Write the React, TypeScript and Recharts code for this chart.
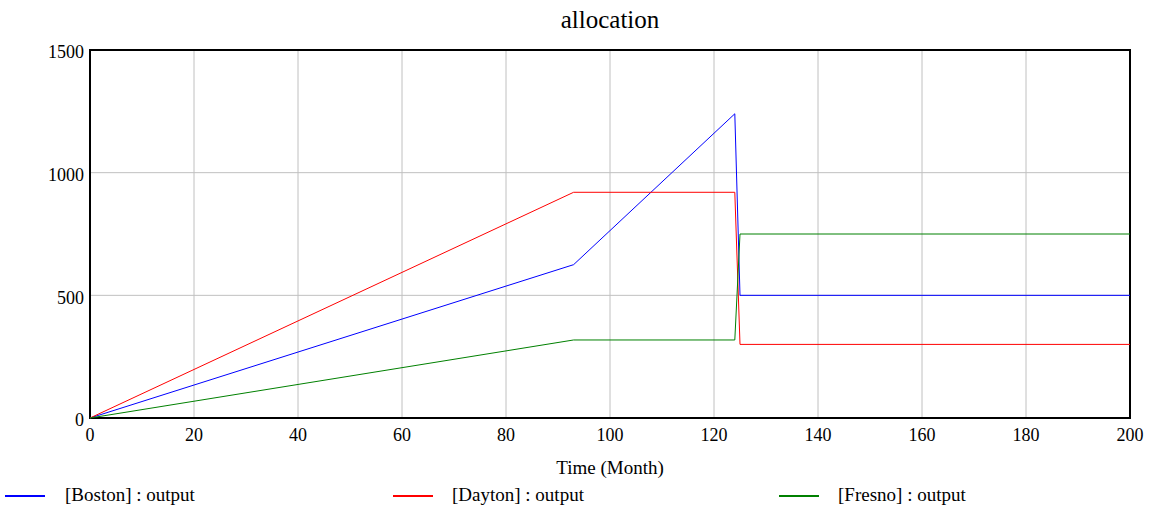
import React from 'react';
import { LineChart, Line, XAxis, YAxis, CartesianGrid, ReferenceArea } from 'recharts';

const times = [0, 93, 124, 125, 200];
const boston = [0, 625, 1240, 500, 500];
const dayton = [0, 920, 920, 300, 300];
const fresno = [0, 318, 318, 750, 750];

const xTicks = [0, 20, 40, 60, 80, 100, 120, 140, 160, 180, 200];
const yTicks = [0, 500, 1000, 1500];

const seriesNames = ['[Boston] : output', '[Dayton] : output', '[Fresno] : output'];
const seriesKeys = ['boston', 'dayton', 'fresno'];
const seriesColors = ['#0000ff', '#ff0000', '#008000'];

const data = times.map((t, i) => ({ t, boston: boston[i], dayton: dayton[i], fresno: fresno[i] }));

const FONT = '"Liberation Serif", "Times New Roman", serif';

const legendPos = [
  { line: 5, text: 65 },
  { line: 393, text: 452 },
  { line: 779, text: 838 },
];

export default function App() {
  return (
    <div style={{ position: 'absolute', left: 0, top: 0, width: 1164, height: 513, background: '#fff', fontFamily: FONT }}>
      <div style={{ position: 'absolute', left: 90, width: 1040, top: 6, textAlign: 'center', fontSize: 25, color: '#000' }}>
        allocation
      </div>
      <LineChart
        width={1164}
        height={513}
        data={data}
        margin={{ top: 50, right: 34, left: 0, bottom: 35 }}
        style={{ fontFamily: FONT }}
      >
        <CartesianGrid stroke="#c0c0c0" strokeWidth={1} horizontalValues={yTicks} verticalValues={xTicks} />
        <XAxis
          dataKey="t"
          type="number"
          domain={[0, 200]}
          ticks={xTicks}
          interval={0}
          tickSize={0}
          tickMargin={10}
          axisLine={false}
          height={60}
          tick={{ fill: '#000', fontSize: 18, fontFamily: FONT }}
          label={{ value: 'Time (Month)', position: 'insideBottom', offset: 4, fill: '#000', fontSize: 19, fontFamily: FONT }}
        />
        <YAxis
          type="number"
          domain={[0, 1500]}
          ticks={yTicks}
          interval={0}
          tickSize={0}
          tickMargin={6}
          axisLine={false}
          width={90}
          tick={{ fill: '#000', fontSize: 18, fontFamily: FONT, dy: 2 }}
        />
        {seriesKeys.map((k, i) => (
          <Line
            key={k}
            type="linear"
            dataKey={k}
            stroke={seriesColors[i]}
            strokeWidth={1}
            dot={false}
            activeDot={false}
            isAnimationActive={false}
          />
        ))}
        <ReferenceArea x1={0} x2={200} y1={0} y2={1500} fill="none" fillOpacity={0} stroke="#000" strokeWidth={2} />
      </LineChart>
      {seriesNames.map((name, i) => (
        <div key={name}>
          <div style={{ position: 'absolute', left: legendPos[i].line, top: 495, width: 40, height: 2, background: seriesColors[i] }} />
          <div style={{ position: 'absolute', left: legendPos[i].text, top: 484, fontSize: 19, color: '#000', whiteSpace: 'nowrap' }}>
            {name}
          </div>
        </div>
      ))}
    </div>
  );
}
